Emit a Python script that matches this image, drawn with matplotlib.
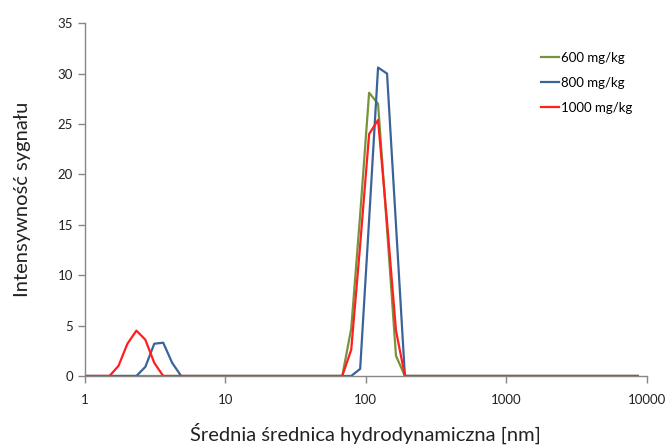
import matplotlib
matplotlib.use('Agg')
import matplotlib.pyplot as plt
from matplotlib.ticker import FixedLocator, FixedFormatter, NullLocator

plt.rcParams['font.family'] = ['Lato', 'DejaVu Sans']

# rozmiary klas (nm)
sizes = [0.4, 0.4632, 0.5365, 0.6213, 0.7195, 0.8332, 0.9649, 1.117, 1.294, 1.499,
         1.736, 2.010, 2.328, 2.696, 3.122, 3.615, 4.187, 4.849, 5.615, 6.503,
         7.531, 8.721, 10.10, 11.70, 13.54, 15.69, 18.17, 21.04, 24.36, 28.21,
         32.67, 37.84, 43.82, 50.75, 58.77, 68.06, 78.82, 91.28, 105.7, 122.4,
         141.8, 164.2, 190.1, 220.2, 255.0, 295.3, 342.0, 396.1, 458.7, 531.2,
         615.1, 712.4, 825.0, 955.4, 1106, 1281, 1484, 1718, 1990, 2305,
         2669, 3091, 3580, 4145, 4801, 5560, 6439, 7456, 8635]

s600 = [0, 0, 0, 0, 0, 0, 0, 0, 0, 0,
        0, 0, 0, 0, 0, 0, 0, 0, 0, 0,
        0, 0, 0, 0, 0, 0, 0, 0, 0, 0,
        0, 0, 0, 0, 0, 0, 4.7, 16.0, 28.1, 27.0,
        14.6, 2.0, 0, 0, 0, 0, 0, 0, 0, 0,
        0, 0, 0, 0, 0, 0, 0, 0, 0, 0,
        0, 0, 0, 0, 0, 0, 0, 0, 0]

s800 = [0, 0, 0, 0, 0, 0, 0, 0, 0, 0,
        0, 0, 0, 0.9, 3.2, 3.3, 1.3, 0, 0, 0,
        0, 0, 0, 0, 0, 0, 0, 0, 0, 0,
        0, 0, 0, 0, 0, 0, 0, 0.7, 15.5, 30.6,
        30.0, 15.0, 0, 0, 0, 0, 0, 0, 0, 0,
        0, 0, 0, 0, 0, 0, 0, 0, 0, 0,
        0, 0, 0, 0, 0, 0, 0, 0, 0]

s1000 = [0, 0, 0, 0, 0, 0, 0, 0, 0, 0,
         1.0, 3.2, 4.5, 3.6, 1.3, 0, 0, 0, 0, 0,
         0, 0, 0, 0, 0, 0, 0, 0, 0, 0,
         0, 0, 0, 0, 0, 0, 2.6, 13.0, 24.0, 25.4,
         15.3, 4.5, 0, 0, 0, 0, 0, 0, 0, 0,
         0, 0, 0, 0, 0, 0, 0, 0, 0, 0,
         0, 0, 0, 0, 0, 0, 0, 0, 0]

labels = ['600 mg/kg', '800 mg/kg', '1000 mg/kg']
colors = ['#77933C', '#3A6497', '#FF1F1F']

fig = plt.figure(figsize=(6.68, 4.46), dpi=100)
ax = fig.add_axes([0.127, 0.157, 0.841, 0.791])

for ys, lab, c in zip([s600, s800, s1000], labels, colors):
    ax.plot(sizes, ys, color=c, lw=1.6, label=lab)

ax.set_xscale('log')
ax.set_xlim(1, 10000)
ax.set_ylim(0, 35)
xt = [1, 10, 100, 1000, 10000]
ax.xaxis.set_major_locator(FixedLocator(xt))
ax.xaxis.set_major_formatter(FixedFormatter([str(v) for v in xt]))
ax.xaxis.set_minor_locator(NullLocator())
ax.set_yticks(range(0, 36, 5))

for s in ['top', 'right']:
    ax.spines[s].set_visible(False)
for s in ['left', 'bottom']:
    ax.spines[s].set_color('#868686')
    ax.spines[s].set_linewidth(1.0)
ax.tick_params(colors='#868686', length=5, width=1.0, labelcolor='#222222', labelsize=9.5)
ax.tick_params(axis='x', pad=8)

ax.set_xlabel('Średnia średnica hydrodynamiczna [nm]', fontsize=14.5, color='#222222', labelpad=12)
ax.set_ylabel('Intensywność sygnału', fontsize=14.5, color='#222222', labelpad=19)

ax.legend(loc='upper left', bbox_to_anchor=(0.79, 0.953), frameon=False, fontsize=9.5,
          handlelength=1.4, handletextpad=0.15, labelspacing=1.0)

fig.savefig('out.png', dpi=100)
